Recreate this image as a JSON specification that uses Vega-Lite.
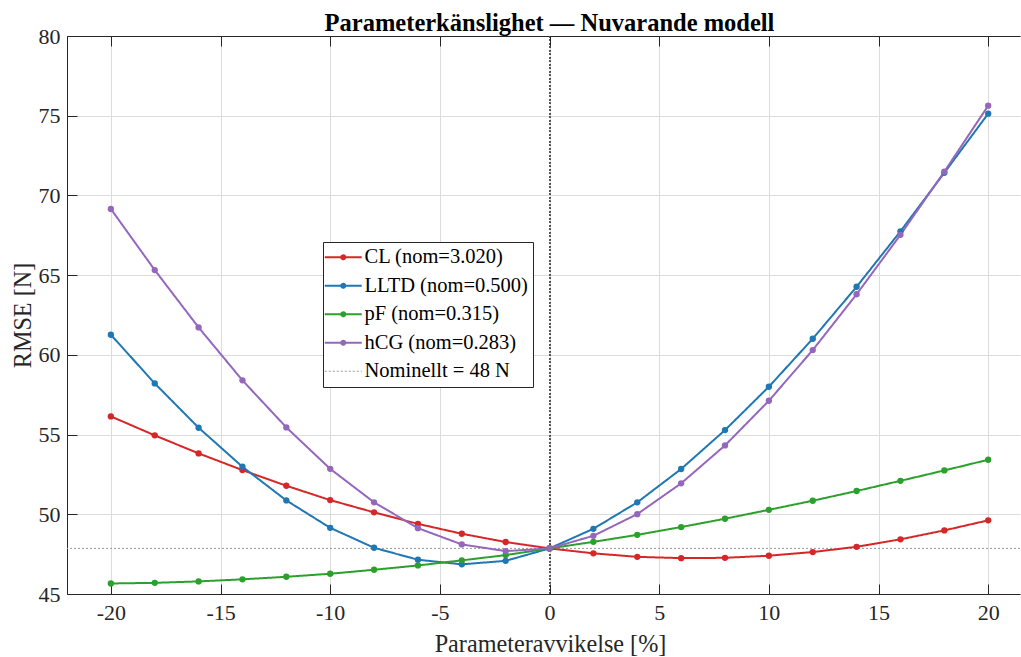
{
  "$schema": "https://vega.github.io/schema/vega-lite/v6.json",
  "width": 953,
  "height": 558,
  "autosize": {"type": "none"},
  "padding": {"left": 67, "top": 36, "right": 1, "bottom": 63},
  "background": "white",
  "title": {"text": "Parameterkänslighet — Nuvarande modell", "font": "Liberation Serif", "fontSize": 24.5, "fontWeight": "bold", "color": "#000000", "anchor": "middle", "offset": 6, "baseline": "alphabetic", "dx": 6, "dy": 36},
  "config": {"view": {"stroke": null}, "font": "Liberation Serif"},
  "datasets": {
    "d": [
      {"p": -20, "s": "CL (nom=3.020)", "v": 56.14}, {"p": -18, "s": "CL (nom=3.020)", "v": 54.95}, {"p": -16, "s": "CL (nom=3.020)", "v": 53.82}, {"p": -14, "s": "CL (nom=3.020)", "v": 52.77}, {"p": -12, "s": "CL (nom=3.020)", "v": 51.79}, {"p": -10, "s": "CL (nom=3.020)", "v": 50.89}, {"p": -8, "s": "CL (nom=3.020)", "v": 50.12}, {"p": -6, "s": "CL (nom=3.020)", "v": 49.40}, {"p": -4, "s": "CL (nom=3.020)", "v": 48.78}, {"p": -2, "s": "CL (nom=3.020)", "v": 48.26}, {"p": 0, "s": "CL (nom=3.020)", "v": 47.86}, {"p": 2, "s": "CL (nom=3.020)", "v": 47.55}, {"p": 4, "s": "CL (nom=3.020)", "v": 47.33}, {"p": 6, "s": "CL (nom=3.020)", "v": 47.25}, {"p": 8, "s": "CL (nom=3.020)", "v": 47.27}, {"p": 10, "s": "CL (nom=3.020)", "v": 47.40}, {"p": 12, "s": "CL (nom=3.020)", "v": 47.63}, {"p": 14, "s": "CL (nom=3.020)", "v": 47.96}, {"p": 16, "s": "CL (nom=3.020)", "v": 48.43}, {"p": 18, "s": "CL (nom=3.020)", "v": 48.99}, {"p": 20, "s": "CL (nom=3.020)", "v": 49.62},
      {"p": -20, "s": "LLTD (nom=0.500)", "v": 61.26}, {"p": -18, "s": "LLTD (nom=0.500)", "v": 58.21}, {"p": -16, "s": "LLTD (nom=0.500)", "v": 55.43}, {"p": -14, "s": "LLTD (nom=0.500)", "v": 52.98}, {"p": -12, "s": "LLTD (nom=0.500)", "v": 50.87}, {"p": -10, "s": "LLTD (nom=0.500)", "v": 49.15}, {"p": -8, "s": "LLTD (nom=0.500)", "v": 47.90}, {"p": -6, "s": "LLTD (nom=0.500)", "v": 47.15}, {"p": -4, "s": "LLTD (nom=0.500)", "v": 46.86}, {"p": -2, "s": "LLTD (nom=0.500)", "v": 47.08}, {"p": 0, "s": "LLTD (nom=0.500)", "v": 47.86}, {"p": 2, "s": "LLTD (nom=0.500)", "v": 49.09}, {"p": 4, "s": "LLTD (nom=0.500)", "v": 50.75}, {"p": 6, "s": "LLTD (nom=0.500)", "v": 52.84}, {"p": 8, "s": "LLTD (nom=0.500)", "v": 55.28}, {"p": 10, "s": "LLTD (nom=0.500)", "v": 58.00}, {"p": 12, "s": "LLTD (nom=0.500)", "v": 61.01}, {"p": 14, "s": "LLTD (nom=0.500)", "v": 64.27}, {"p": 16, "s": "LLTD (nom=0.500)", "v": 67.75}, {"p": 18, "s": "LLTD (nom=0.500)", "v": 71.42}, {"p": 20, "s": "LLTD (nom=0.500)", "v": 75.13},
      {"p": -20, "s": "pF (nom=0.315)", "v": 45.66}, {"p": -18, "s": "pF (nom=0.315)", "v": 45.70}, {"p": -16, "s": "pF (nom=0.315)", "v": 45.79}, {"p": -14, "s": "pF (nom=0.315)", "v": 45.92}, {"p": -12, "s": "pF (nom=0.315)", "v": 46.08}, {"p": -10, "s": "pF (nom=0.315)", "v": 46.27}, {"p": -8, "s": "pF (nom=0.315)", "v": 46.52}, {"p": -6, "s": "pF (nom=0.315)", "v": 46.79}, {"p": -4, "s": "pF (nom=0.315)", "v": 47.11}, {"p": -2, "s": "pF (nom=0.315)", "v": 47.44}, {"p": 0, "s": "pF (nom=0.315)", "v": 47.86}, {"p": 2, "s": "pF (nom=0.315)", "v": 48.27}, {"p": 4, "s": "pF (nom=0.315)", "v": 48.71}, {"p": 6, "s": "pF (nom=0.315)", "v": 49.20}, {"p": 8, "s": "pF (nom=0.315)", "v": 49.72}, {"p": 10, "s": "pF (nom=0.315)", "v": 50.28}, {"p": 12, "s": "pF (nom=0.315)", "v": 50.85}, {"p": 14, "s": "pF (nom=0.315)", "v": 51.46}, {"p": 16, "s": "pF (nom=0.315)", "v": 52.10}, {"p": 18, "s": "pF (nom=0.315)", "v": 52.75}, {"p": 20, "s": "pF (nom=0.315)", "v": 53.42},
      {"p": -20, "s": "hCG (nom=0.283)", "v": 69.15}, {"p": -18, "s": "hCG (nom=0.283)", "v": 65.32}, {"p": -16, "s": "hCG (nom=0.283)", "v": 61.72}, {"p": -14, "s": "hCG (nom=0.283)", "v": 58.40}, {"p": -12, "s": "hCG (nom=0.283)", "v": 55.45}, {"p": -10, "s": "hCG (nom=0.283)", "v": 52.85}, {"p": -8, "s": "hCG (nom=0.283)", "v": 50.75}, {"p": -6, "s": "hCG (nom=0.283)", "v": 49.13}, {"p": -4, "s": "hCG (nom=0.283)", "v": 48.11}, {"p": -2, "s": "hCG (nom=0.283)", "v": 47.69}, {"p": 0, "s": "hCG (nom=0.283)", "v": 47.86}, {"p": 2, "s": "hCG (nom=0.283)", "v": 48.65}, {"p": 4, "s": "hCG (nom=0.283)", "v": 50.01}, {"p": 6, "s": "hCG (nom=0.283)", "v": 51.94}, {"p": 8, "s": "hCG (nom=0.283)", "v": 54.32}, {"p": 10, "s": "hCG (nom=0.283)", "v": 57.12}, {"p": 12, "s": "hCG (nom=0.283)", "v": 60.30}, {"p": 14, "s": "hCG (nom=0.283)", "v": 63.80}, {"p": 16, "s": "hCG (nom=0.283)", "v": 67.53}, {"p": 18, "s": "hCG (nom=0.283)", "v": 71.49}, {"p": 20, "s": "hCG (nom=0.283)", "v": 75.63},
      {"p": 0, "s": "Nominellt = 48 N", "v": 47.86}
    ]
  },
  "data": {"name": "d"},
  "resolve": {"axis": {"x": "independent", "y": "independent"}},
  "layer": [
    {
      "mark": {"type": "rule", "color": "#555555", "strokeDash": [1.5, 2], "strokeWidth": 0.8},
      "encoding": {
        "x": {"datum": 0, "type": "quantitative", "scale": {"domain": [-22, 21.45], "nice": false, "zero": false},
          "axis": {"orient": "top", "labels": false, "title": null, "grid": false, "values": [-20, -15, -10, -5, 0, 5, 10, 15, 20], "tickSize": -10, "tickColor": "#262626", "domainColor": "#262626", "tickWidth": 1, "domainWidth": 1}}
      }
    },
    {
      "transform": [{"filter": "datum.s === 'Nominellt = 48 N'"}],
      "mark": {"type": "rule", "strokeWidth": 1},
      "encoding": {
        "y": {"field": "v", "type": "quantitative", "axis": null},
        "color": {"field": "s", "type": "nominal"},
        "strokeDash": {"field": "s", "type": "nominal"}
      }
    },
    {
      "transform": [{"filter": "datum.s !== 'Nominellt = 48 N'"}],
      "mark": {"type": "line", "strokeWidth": 2},
      "encoding": {
        "x": {"field": "p", "type": "quantitative", "scale": {"domain": [-22, 21.45], "nice": false, "zero": false},
          "axis": {"orient": "bottom", "values": [-20, -15, -10, -5, 0, 5, 10, 15, 20], "labelExpr": "'' + datum.value", "labelFont": "Liberation Serif", "labelFontSize": 22, "labelColor": "#262626", "labelPadding": 18, "tickSize": -10, "tickColor": "#262626", "domainColor": "#262626", "grid": true, "gridColor": "#dcdcdc", "gridWidth": 1,
            "title": "Parameteravvikelse [%]", "titleFont": "Liberation Serif", "titleFontSize": 24.2, "titleFontWeight": "normal", "titleColor": "#262626", "titleX": 483, "titleY": 57, "titleBaseline": "alphabetic", "titleAlign": "center"}},
        "y": {"field": "v", "type": "quantitative", "scale": {"domain": [45, 80], "nice": false, "zero": false},
          "axis": {"orient": "left", "values": [45, 50, 55, 60, 65, 70, 75, 80], "labelFont": "Liberation Serif", "labelFontSize": 22, "labelColor": "#262626", "labelPadding": 17, "tickSize": -10, "tickColor": "#262626", "domainColor": "#262626", "grid": true, "gridColor": "#dcdcdc", "gridWidth": 1,
            "title": "RMSE [N]", "titleFont": "Liberation Serif", "titleFontSize": 24.2, "titleFontWeight": "normal", "titleColor": "#262626", "titleAngle": 270, "titleX": -37, "titleY": 279, "titleAlign": "center", "titleBaseline": "alphabetic"}},
        "color": {"field": "s", "type": "nominal",
          "scale": {"domain": ["CL (nom=3.020)", "LLTD (nom=0.500)", "pF (nom=0.315)", "hCG (nom=0.283)", "Nominellt = 48 N"], "range": ["#d62728", "#1f77b4", "#2ca02c", "#9467bd", "#9a9a9a"]},
          "legend": {"orient": "none", "legendX": 256, "legendY": 206, "title": null, "labelFont": "Liberation Serif", "labelFontSize": 20.5, "labelColor": "#000000", "labelLimit": 400, "strokeColor": "#262626", "fillColor": "white", "padding": 5, "symbolSize": 625, "rowPadding": 7.5, "symbolOffset": 5, "labelOffset": 11,
            "labelExpr": "datum.label + '\u00a0\u00a0\u00a0\u00a0\u00a0'",
            "symbolStrokeWidth": {"expr": "datum.value === 'Nominellt = 48 N' ? 1 : 2"},
            "symbolType": {"expr": "datum.value === 'Nominellt = 48 N' ? 'M-1.48,0H1.48' : 'M-1.48,0H1.48M-0.16,0A0.16,0.16,0,1,1,0.16,0A0.16,0.16,0,1,1,-0.16,0'"}}},
        "strokeDash": {"field": "s", "type": "nominal",
          "scale": {"domain": ["CL (nom=3.020)", "LLTD (nom=0.500)", "pF (nom=0.315)", "hCG (nom=0.283)", "Nominellt = 48 N"], "range": [[1, 0], [1, 0], [1, 0], [1, 0], [2, 2]]}}
      }
    },
    {
      "transform": [{"filter": "datum.s !== 'Nominellt = 48 N'"}],
      "mark": {"type": "point", "filled": true, "size": 40, "opacity": 1},
      "encoding": {
        "x": {"field": "p", "type": "quantitative", "axis": null},
        "y": {"field": "v", "type": "quantitative", "axis": null},
        "color": {"field": "s", "type": "nominal", "legend": null}
      }
    }
  ]
}
